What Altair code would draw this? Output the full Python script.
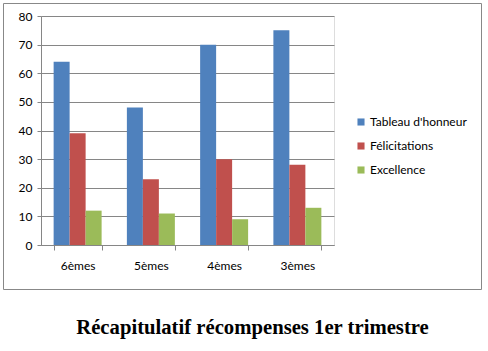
import altair as alt
import pandas as pd

classes = ["6èmes", "5èmes", "4èmes", "3èmes"]
series = ["Tableau d'honneur", "Félicitations", "Excellence"]
tableau = [64, 48, 70, 75]
felicitations = [39, 23, 30, 28]
excellence = [12, 11, 9, 13]
colors = ["#4F81BD", "#C0504D", "#9BBB59"]
title_text = "Récapitulatif récompenses 1er trimestre"

rows = []
for s, vals in zip(series, [tableau, felicitations, excellence]):
    for c, v in zip(classes, vals):
        rows.append({"classe": c, "serie": s, "valeur": v})
df = pd.DataFrame(rows)

FONT = "Lato"
W, H = 293, 229
PL, PT = 41, 16

bars = alt.Chart(df).mark_bar().encode(
    x=alt.X("classe:N", sort=classes, title=None,
            scale=alt.Scale(paddingInner=0.345, paddingOuter=0.1725),
            axis=alt.Axis(labelAngle=0, labelFont=FONT, labelFontSize=12, labelColor="#000",
                          labelPadding=10, domainColor="#868686", tickColor="#868686",
                          tickSize=5, tickBand="extent", grid=False)),
    xOffset=alt.XOffset("serie:N", sort=series),
    y=alt.Y("valeur:Q", title=None,
            scale=alt.Scale(domain=[0, 80], nice=False),
            axis=alt.Axis(values=list(range(0, 81, 10)), labelFont=FONT, labelFontSize=12,
                          labelColor="#000", labelPadding=5, domainColor="#868686",
                          tickColor="#868686", tickSize=4, gridColor="#868686", gridWidth=1)),
    color=alt.Color("serie:N", sort=series, title=None,
                    scale=alt.Scale(domain=series, range=colors),
                    legend=alt.Legend(orient="none", legendX=314, legendY=100,
                                      symbolType="square", symbolSize=50, symbolStrokeWidth=0,
                                      labelFont=FONT, labelFontSize=12, labelColor="#000",
                                      rowPadding=12, symbolOffset=0, labelOffset=3)),
)

border = alt.Chart(pd.DataFrame({"k": [0]})).mark_rect(
    fill=None, stroke="#888888", strokeWidth=1, clip=False
).encode(
    x=alt.value(3.5 - PL), x2=alt.value(481.5 - PL),
    y=alt.value(3.5 - PT), y2=alt.value(289.5 - PT),
)

title = alt.Chart(pd.DataFrame({"t": [title_text]})).mark_text(
    font="Liberation Serif", fontSize=20.7, fontWeight="bold", color="#000",
    align="center", baseline="middle", clip=False
).encode(
    text="t:N",
    x=alt.value(252.5 - PL), y=alt.value(328 - PT),
)

chart = alt.layer(border, bars, title).properties(
    width=W, height=H,
    autosize=alt.AutoSizeParams(type="none"),
    padding={"left": PL, "top": PT, "right": 488 - PL - W, "bottom": 351 - PT - H},
).configure_view(stroke=None).configure(background="white")

chart.save("out.html", embed_options={"renderer": "svg", "actions": False})
